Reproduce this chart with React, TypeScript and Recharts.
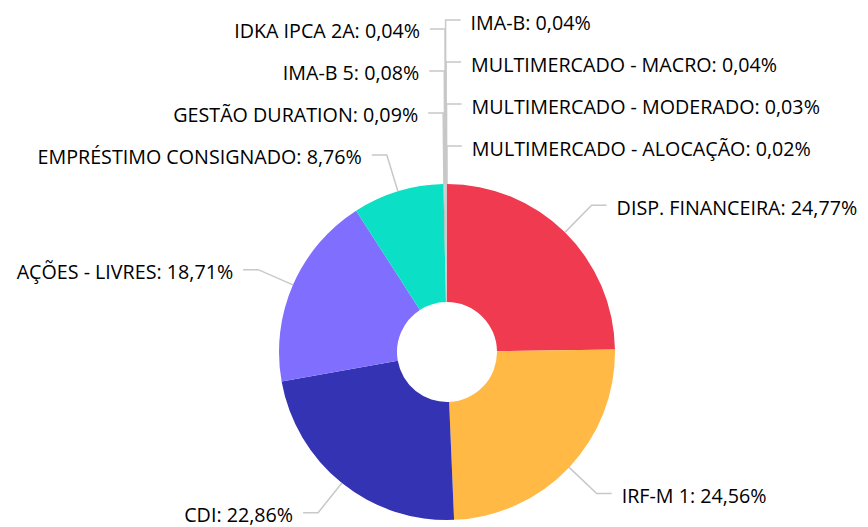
import React from 'react';
import { PieChart, Pie, Cell } from 'recharts';

const categories = [
  'DISP. FINANCEIRA',
  'IRF-M 1',
  'CDI',
  'AÇÕES - LIVRES',
  'EMPRÉSTIMO CONSIGNADO',
  'GESTÃO DURATION',
  'IMA-B 5',
  'IDKA IPCA 2A',
  'IMA-B',
  'MULTIMERCADO - MACRO',
  'MULTIMERCADO - MODERADO',
  'MULTIMERCADO - ALOCAÇÃO',
];
const values = [24.77, 24.56, 22.86, 18.71, 8.76, 0.09, 0.08, 0.04, 0.04, 0.04, 0.03, 0.02];
const colors = [
  '#EF3A50', '#FFB944', '#3333B3', '#806FFE', '#0BDFC5',
  '#B0B0B0', '#C8C8C8', '#A0A0A0', '#D0D0D0', '#989898', '#C0C0C0', '#E0A0A8',
];

const W = 868;
const H = 527;
const CX = 447;
const CY = 352;
const R = 168;
const IR = 50;
const BEND = 38;
const HLEN = 15;
const GAP = 10;
const SPACING = 42;

const data = categories.map((name, i) => ({ name, value: values[i] }));

type Lay = { side: 'left' | 'right'; bx: number; y: number };

function computeLayout(): Lay[] {
  const total = values.reduce((a, b) => a + b, 0);
  let cum = 0;
  const items = values.map((v, i) => {
    const p = (cum + v / 2) / total;
    cum += v;
    const ang = ((90 - 360 * p) * Math.PI) / 180;
    const bx = CX + (R + BEND) * Math.cos(ang);
    const by = CY - (R + BEND) * Math.sin(ang);
    const side: 'left' | 'right' = bx < CX - 1.5 ? 'left' : 'right';
    const key = side === 'right' ? (p > 0.5 ? p - 1 : p) : -p;
    return { i, p, bx, by, side, key };
  });
  const out: Lay[] = new Array(values.length);
  (['left', 'right'] as const).forEach((side) => {
    const list = items.filter((it) => it.side === side).sort((a, b) => a.key - b.key);
    const ys: number[] = list.map((it) => it.by);
    for (let k = list.length - 2; k >= 0; k--) {
      ys[k] = Math.min(ys[k], ys[k + 1] - SPACING);
    }
    list.forEach((it, k) => {
      out[it.i] = { side, bx: it.bx, y: ys[k] };
    });
  });
  return out;
}

const layout = computeLayout();

const fmt = (v: number) => v.toFixed(2).replace('.', ',') + '%';

const renderLabel = (props: any) => {
  const { cx, cy, midAngle, outerRadius, index } = props;
  const lay = layout[index];
  const rad = (midAngle * Math.PI) / 180;
  const sx = cx + outerRadius * Math.cos(rad);
  const sy = cy - outerRadius * Math.sin(rad);
  const dir = lay.side === 'right' ? 1 : -1;
  const ex = lay.bx + dir * HLEN;
  const tx = ex + dir * GAP;
  return (
    <g key={`lbl-${index}`}>
      <path
        d={`M${sx},${sy}L${lay.bx},${lay.y}L${ex},${lay.y}`}
        stroke="#c8c8c8"
        strokeWidth={1.5}
        fill="none"
      />
      <text
        x={tx}
        y={lay.y + 2}
        textAnchor={lay.side === 'right' ? 'start' : 'end'}
        dominantBaseline="central"
        fill="#000"
        fontSize={19.7}
        fontFamily="'Open Sans', sans-serif"
      >
        {`${categories[index]}: ${fmt(values[index])}`}
      </text>
    </g>
  );
};

export default function App() {
  return (
    <div style={{ position: 'absolute', left: 0, top: 0, width: W, height: H, background: '#fff' }}>
      <PieChart width={W} height={H} margin={{ top: 0, right: 0, bottom: 0, left: 0 }}>
        <Pie
          data={data}
          dataKey="value"
          nameKey="name"
          cx={CX}
          cy={CY}
          outerRadius={R}
          innerRadius={IR}
          startAngle={90}
          endAngle={-270}
          stroke="none"
          isAnimationActive={false}
          labelLine={false}
          label={renderLabel}
        >
          {data.map((d, i) => (
            <Cell key={d.name} fill={colors[i]} />
          ))}
        </Pie>
      </PieChart>
    </div>
  );
}
